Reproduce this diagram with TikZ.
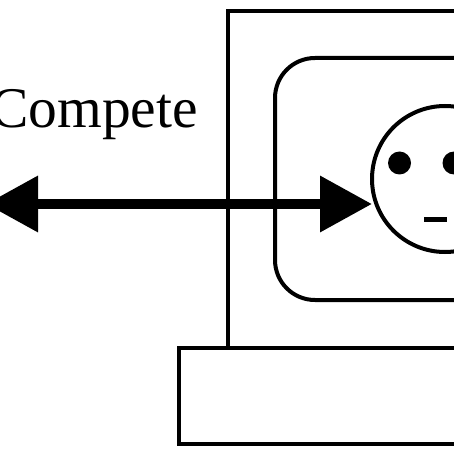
\documentclass[tikz,border=0pt]{standalone}
\usepackage{fontspec}
\setmainfont{Liberation Serif}
\usetikzlibrary{positioning,arrows.meta}
\begin{document}
\begin{tikzpicture}[x=1pt, y=-1pt, outline/.style={draw, line width=4pt, inner sep=0pt}, eye/.style={circle, fill, inner sep=0pt, minimum size=23pt}, compete/.style={{Triangle[length=52pt,width=54pt]}-{Triangle[length=52pt,width=54pt]}, line width=10pt}]
\useasboundingbox (0,0) rectangle (454,454);
\node[outline, anchor=north west, minimum width=400pt, minimum height=337pt] (screen) at (226,9) {};
\node[outline, anchor=north west, minimum width=400pt, minimum height=242pt, rounded corners=40pt] (panel) at (273,56) {};
\node[outline, anchor=north west, minimum width=400pt, minimum height=96pt] (base) at (177,346) {};
\node[outline, circle, minimum size=146pt] (face) at (445,179) {};
\node[eye] (lefteye) at (399.5,163) {};
\node[eye] (righteye) at (454,163) {};
\node[fill, inner sep=0pt, minimum width=23pt, minimum height=5pt] (mouth) at (435,219) {};
\node[font=\fontsize{57.5}{60}\selectfont, anchor=base east, inner sep=0pt] (label) at (198,128) {Compete};
\coordinate (rival) at (-14,204);
\draw[compete] (rival) -- ([xshift=2pt]rival -| face.west);
\end{tikzpicture}
\end{document}
